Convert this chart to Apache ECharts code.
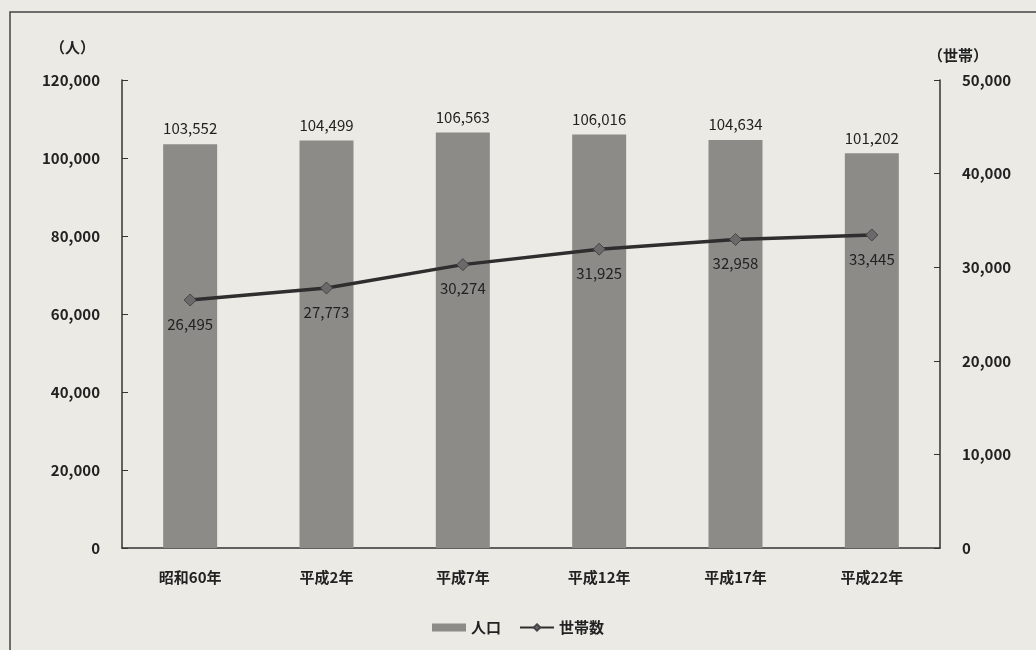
<!DOCTYPE html>
<html><head><meta charset="utf-8">
<script src="https://cdn.jsdelivr.net/npm/echarts@6/dist/echarts.min.js"></script>
<style>html,body{margin:0;padding:0;background:#ebeae4;}#c{width:1036px;height:650px;}</style>
</head><body><div id="c"></div>
<script>
const categories = ['昭和60年','平成2年','平成7年','平成12年','平成17年','平成22年'];
const population = [103552,104499,106563,106016,104634,101202];
const households = [26495,27773,30274,31925,32958,33445];
const leftTicks = {min:0,max:120000,interval:20000};
const rightTicks = {min:0,max:50000,interval:10000};
const leftUnit = '（人）';
const rightUnit = '（世帯）';
const font = '"Noto Sans CJK JP", "Noto Sans", sans-serif';
const chart = echarts.init(document.getElementById('c'));
chart.setOption({
  backgroundColor:'#ebeae4',
  textStyle:{fontFamily:font},
  graphic:[
    {type:'rect',shape:{x:10,y:12,width:1040,height:650},style:{fill:'none',stroke:'#444',lineWidth:1.5},silent:true},
    {type:'text',left:50,top:40,style:{text:leftUnit,font:'bold 15px '+font,fill:'#222'}},
    {type:'text',left:928,top:48,style:{text:rightUnit,font:'bold 15px '+font,fill:'#222'}}
  ],
  grid:{left:122,right:96,top:80,bottom:102},
  legend:{bottom:10,left:'center',itemGap:18,itemWidth:34,itemHeight:8,
    textStyle:{fontSize:15,fontWeight:'bold',color:'#222',fontFamily:font},
    data:[{name:'人口',icon:'rect'},{name:'世帯数'}]},
  xAxis:{type:'category',data:categories,
    axisLine:{lineStyle:{color:'#333',width:1.5}},
    axisTick:{inside:true,length:6,lineStyle:{color:'#333'}},
    axisLabel:{fontSize:15,fontWeight:'bold',color:'#222',margin:22}},
  yAxis:[
    {type:'value',min:leftTicks.min,max:leftTicks.max,interval:leftTicks.interval,
     axisLine:{show:true,lineStyle:{color:'#333',width:1.5}},
     axisTick:{show:true,inside:true,length:6,lineStyle:{color:'#333'}},
     splitLine:{show:false},
     axisLabel:{fontSize:15,fontWeight:'bold',color:'#222',margin:22,formatter:v=>v.toLocaleString('en-US')}},
    {type:'value',min:rightTicks.min,max:rightTicks.max,interval:rightTicks.interval,position:'right',
     axisLine:{show:true,lineStyle:{color:'#333',width:1.5}},
     axisTick:{show:true,inside:true,length:6,lineStyle:{color:'#333'}},
     splitLine:{show:false},
     axisLabel:{fontSize:15,fontWeight:'bold',color:'#222',margin:22,formatter:v=>v.toLocaleString('en-US')}}
  ],
  series:[
    {name:'人口',type:'bar',data:population,barWidth:54,yAxisIndex:0,
     itemStyle:{color:'#8c8b88'},
     label:{show:true,position:'top',distance:8,fontSize:15,color:'#222',fontFamily:font,
       formatter:p=>p.value.toLocaleString('en-US')}},
    {name:'世帯数',type:'line',data:households,yAxisIndex:1,
     symbol:'diamond',symbolSize:12,
     lineStyle:{color:'#2e2e2e',width:3.5},
     itemStyle:{color:'#6a6a6a',borderColor:'#444',borderWidth:1},
     label:{show:true,position:'bottom',distance:10,fontSize:15,color:'#222',fontFamily:font,
       formatter:p=>p.value.toLocaleString('en-US')}}
  ]
});
</script></body></html>
